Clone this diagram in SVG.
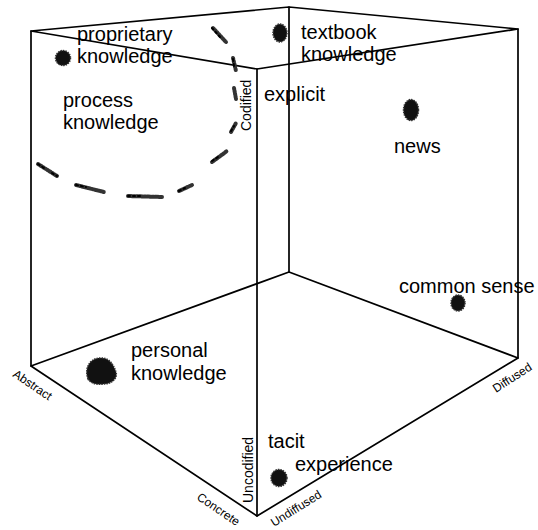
<svg xmlns="http://www.w3.org/2000/svg" width="538" height="530" viewBox="0 0 538 530">
<style>
.edge{stroke:#000;stroke-width:1.7;fill:none;stroke-linecap:round;stroke-linejoin:round}
.lbl{font-family:"Liberation Sans",Arial,sans-serif;font-size:20px;fill:#000}
.ax{font-family:"Liberation Sans",Arial,sans-serif;font-size:12px;fill:#000}
.axv{font-family:"Liberation Sans",Arial,sans-serif;font-size:14px;fill:#000}
.blob{fill:#111;stroke:#333;stroke-width:1.5;stroke-dasharray:1.5 1}
.dash{stroke:#333;stroke-width:4;stroke-linecap:round;fill:none;stroke-dasharray:1.6 1.1}
.dash2{stroke:#000;stroke-width:2;stroke-linecap:round;fill:none;stroke-dasharray:2 3}
</style>
<rect width="538" height="530" fill="#fff"/>
<g id="connectors">
  <path class="edge" d="M31,31 L289,7 L518,29 L257,69 Z"/>
  <path class="edge" d="M31,366 L289,272 L518,358 L257,516 Z"/>
  <path class="edge" d="M31,31 V366 M257,69 V516 M518,29 V358 M289,7 V272"/>
</g>
<g id="axis-labels">
  <text class="axv" transform="translate(251,131) rotate(-90)">Codified</text>
  <text class="axv" transform="translate(253,503) rotate(-90)">Uncodified</text>
  <text class="ax" transform="translate(12,376) rotate(34)">Abstract</text>
  <text class="ax" transform="translate(196,499) rotate(34)">Concrete</text>
  <text class="ax" transform="translate(274,527) rotate(-32)">Undiffused</text>
  <text class="ax" transform="translate(496,393) rotate(-33)">Diffused</text>
</g>
<g id="process-knowledge">
  <g class="dash">
    <path d="M213,28 L226,42"/>
    <path d="M233,58 L236,71"/>
    <path d="M234,88 L236,99"/>
    <path d="M231,132 L236,123"/>
    <path d="M212,162 L227,151"/>
    <path d="M179,191 L192,185"/>
    <path d="M128,196 L162,197"/>
    <path d="M76,185 L104,192"/>
    <path d="M38,164 L57,176"/>
  </g>
  <g class="dash2">
    <path d="M212,28 L220,37"/>
    <path d="M233,59 L234,66"/>
    <path d="M231,131 L234,126"/>
    <path d="M212,161 L218,157"/>
    <path d="M179,191 L185,188"/>
    <path d="M128,196 L140,196"/>
    <path d="M76,185 L86,187"/>
    <path d="M38,164 L44,168 M52,173 L57,176"/>
  </g>
  <text class="lbl" x="63" y="107">process</text>
  <text class="lbl" x="63" y="129">knowledge</text>
</g>
<g id="proprietary-knowledge">
  <ellipse class="blob" cx="63" cy="58" rx="7.5" ry="7.5"/>
  <text class="lbl" x="77" y="41">proprietary</text>
  <text class="lbl" x="77" y="63">knowledge</text>
</g>
<g id="textbook-knowledge">
  <ellipse class="blob" cx="280" cy="33" rx="7" ry="9"/>
  <text class="lbl" x="301" y="39">textbook</text>
  <text class="lbl" x="301" y="61">knowledge</text>
</g>
<g id="explicit">
  <text class="lbl" x="264" y="101">explicit</text>
</g>
<g id="news">
  <ellipse class="blob" cx="411" cy="110" rx="7.5" ry="10.5"/>
  <text class="lbl" x="394" y="153">news</text>
</g>
<g id="common-sense">
  <ellipse class="blob" cx="458" cy="303" rx="7" ry="8"/>
  <text class="lbl" x="399" y="293">common sense</text>
</g>
<g id="personal-knowledge">
  <path class="blob" d="M88,379 C84,368 90,358 100,358 C110,357 114,366 116,372 C118,378 112,384 104,384 C98,385 91,384 88,379 Z"/>
  <text class="lbl" x="131" y="357">personal</text>
  <text class="lbl" x="131" y="380">knowledge</text>
</g>
<g id="tacit-experience">
  <ellipse class="blob" cx="279" cy="478" rx="8" ry="8.5"/>
  <text class="lbl" x="268" y="448">tacit</text>
  <text class="lbl" x="295" y="471">experience</text>
</g>
</svg>
